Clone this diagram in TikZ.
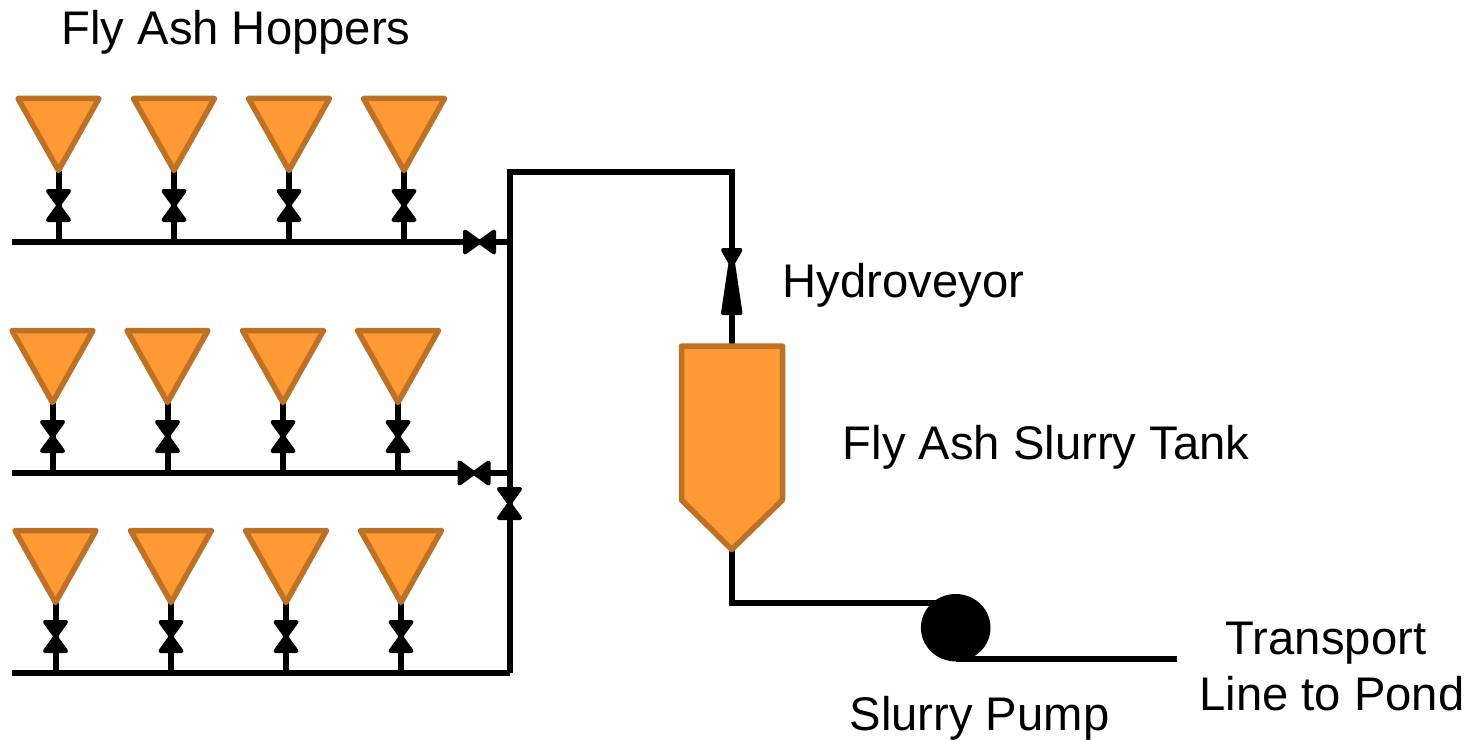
\documentclass[tikz,border=0pt]{standalone}
\usepackage{fontspec}
\setmainfont{Liberation Sans}
\definecolor{ashfill}{HTML}{FF9933}
\definecolor{ashline}{HTML}{BC7126}
\tikzset{
  x=1pt,y=-1pt,
  pipe/.style={draw=black,line width=6pt,line cap=butt,line join=miter},
  vessel/.style={draw=ashline,fill=ashfill,line width=5.5pt,line join=round},
  valvebody/.style={draw=black,fill=black,line width=4pt,line join=round},
  lab/.style={anchor=base,inner sep=0pt,font=\fontsize{47.2}{54}\selectfont},
  hopperpic/.pic={\path[vessel] (-40.5,-72) -- (40.5,-72) -- (0,0) -- cycle;},
  valvepic/.pic={\path[valvebody] (-10.5,-14.5) -- (10.5,-14.5) -- (-10.5,14.5) -- (10.5,14.5) -- cycle;},
}
\begin{document}
\begin{tikzpicture}
\useasboundingbox (0,0) rectangle (1480,741);
% junction points
\coordinate (r1w) at (12,242);
\coordinate (r1e) at (509.5,242);
\coordinate (r2w) at (12,473);
\coordinate (r2e) at (509.5,473);
\coordinate (r3w) at (12,673);
\coordinate (r3e) at (509.5,673);
\coordinate (mt) at (509.5,172);
\coordinate (tr) at (731.7,172);
\coordinate (tanktop) at (731.7,346);
\coordinate (tankapex) at (731.7,549);
\coordinate (corner) at (731.7,603);
\coordinate (pumpin) at (945,603);
\coordinate (pumpc) at (955.7,627.7);
\coordinate (pumpout) at (955.7,659);
\coordinate (lineend) at (1177,659);
% pipes
\draw[pipe] (r1w) -- (r1e);
\draw[pipe] (r2w) -- (r2e);
\draw[pipe] (r3w) -- (r3e);
\draw[pipe,line cap=square] (r3e) -- (mt) -- (tr) -- (tanktop);
\draw[pipe] (tankapex) -- (corner) -- (pumpin);
\draw[pipe] (pumpout) -- (lineend);
% hoppers with stems and valves
\foreach \rowy/\toprow/\xa/\xb/\xc/\xd in {242/170.5/58.5/174/289/404,473/402.5/52.5/167.5/283/398,673/602.5/55.5/171/286/401}{
  \foreach \hx in {\xa,\xb,\xc,\xd}{
    \coordinate (apex) at (\hx,\toprow);
    \coordinate (foot) at (\hx,\rowy);
    \draw[pipe] (apex) -- (foot);
    \path (apex) pic {hopperpic};
    \path (\hx,{\rowy-36.5}) pic {valvepic};
  }
}
% branch valves
\path (479.5,242) pic[rotate=90] {valvepic};
\path (474,473) pic[rotate=90] {valvepic};
\path (509.5,503.5) pic {valvepic};
% hydroveyor valve
\path[valvebody] (723,250) -- (740.5,250) -- (733,263) -- (740.5,313) -- (723,313) -- (730.5,263) -- cycle;
% tank
\path[vessel] (681.5,346) -- (782.5,346) -- (782.5,500) -- (731.7,549.5) -- (681.5,500) -- cycle;
% pump
\fill[black] (pumpc) ellipse [x radius=34.8,y radius=33.7];
% labels
\node[lab] (hoppers) at (236,45) {Fly Ash Hoppers};
\node[lab] (hydro) at (903.5,297) {Hydroveyor};
\node[lab] (tank) at (1046,459) {Fly Ash Slurry Tank};
\node[lab] (pump) at (979.5,730) {Slurry Pump};
\node[lab] (transport) at (1326,654) {Transport};
\node[lab] (toPond) at (1332,710) {Line to Pond};
\end{tikzpicture}
\end{document}
